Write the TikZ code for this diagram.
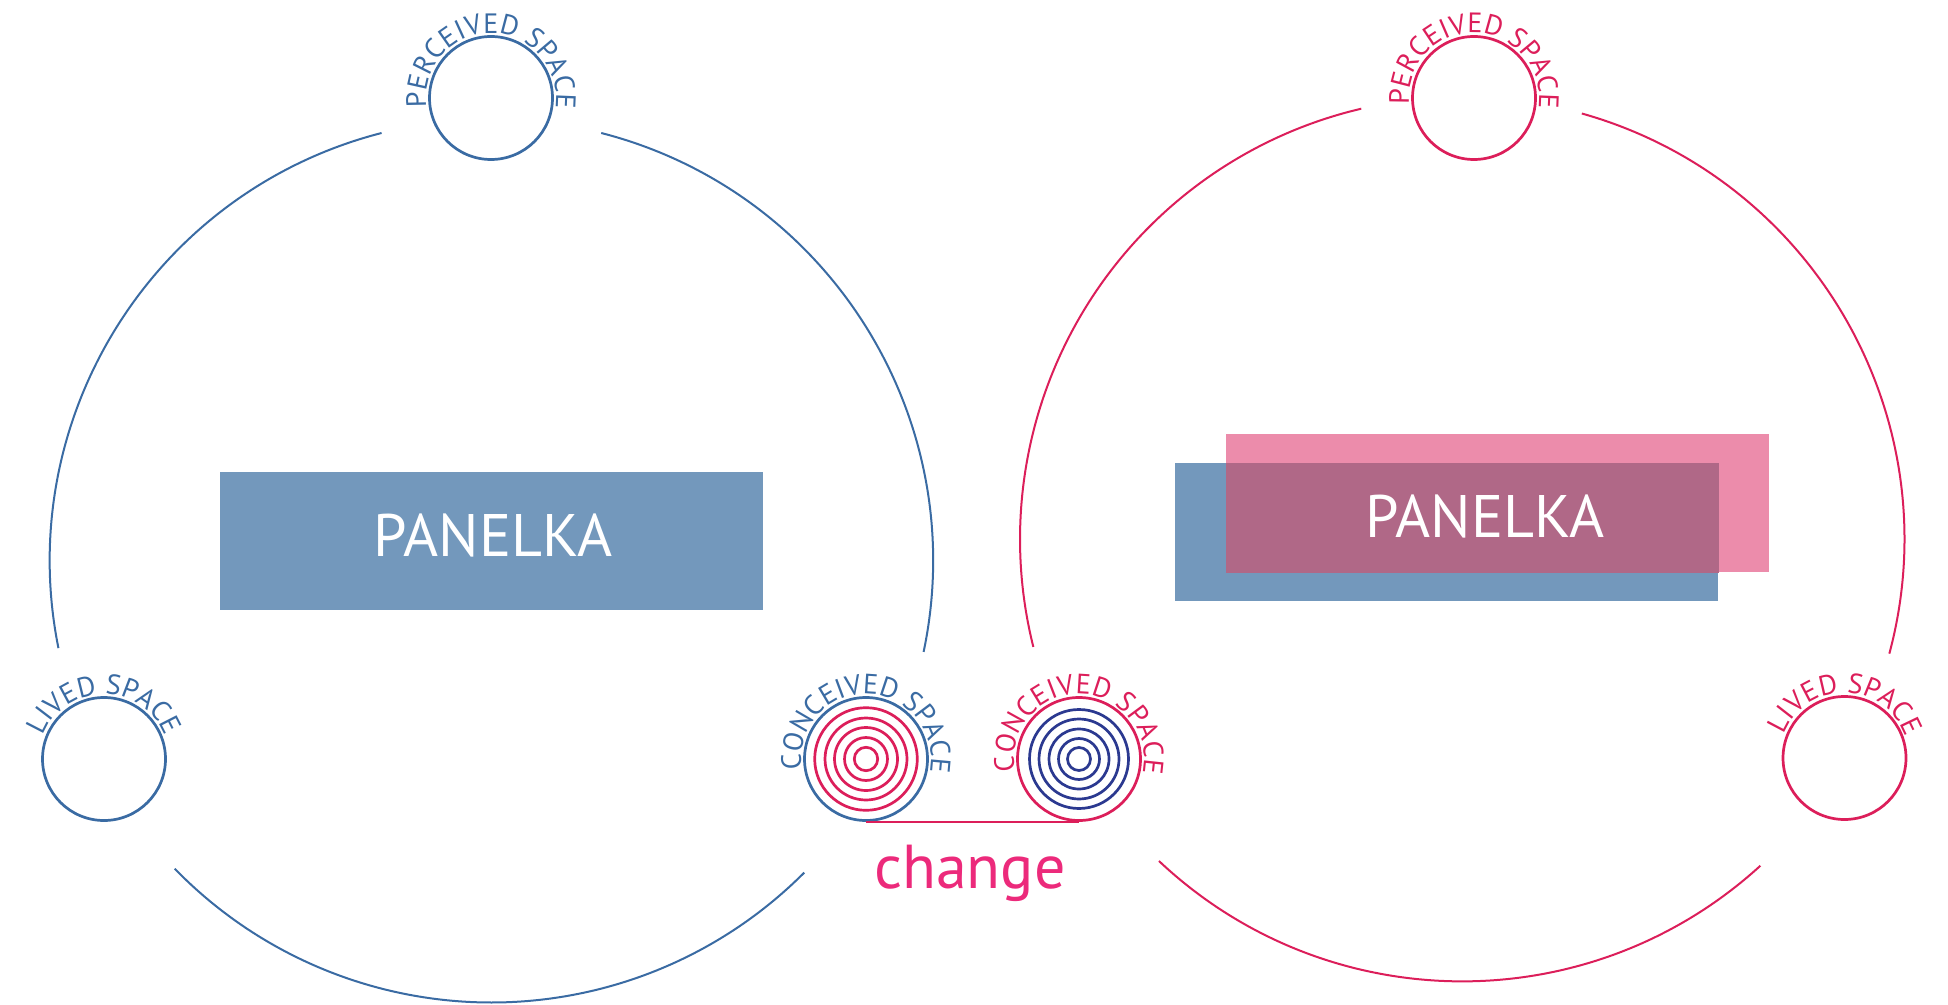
\documentclass[tikz,border=0pt]{standalone}
\usepackage{fontspec}
\setmainfont{PT Sans}
\usetikzlibrary{decorations.text}
\definecolor{blueline}{HTML}{3A6BA3}
\definecolor{redline}{HTML}{DC1E5A}
\definecolor{navyline}{HTML}{2B3990}
\definecolor{changecol}{HTML}{EC2A7B}
\definecolor{boxblue}{HTML}{7398BC}
\definecolor{boxpink}{HTML}{EC8CAB}
\definecolor{boxmix}{HTML}{B06887}
\newcommand{\labelfont}{\fontsize{14}{14}\selectfont}
\newcommand{\curvedlabel}[6]{%
  \path[decorate, decoration={text along path, text={|\labelfont\color{#5}|#6}, text align={fit to path}}]
    (#1) ++(#3:#2) arc[start angle=#3, end angle=#4, radius=#2];}
\tikzset{
  bigarc/.style={line width=1pt},
  smallc/.style={circle, draw, line width=1.35pt, minimum size=61.5pt, inner sep=0pt, fill=white},
  ring/.style={circle, draw, line width=1.35pt, inner sep=0pt},
  panel/.style={anchor=north west, inner sep=0pt, minimum width=271.5pt, minimum height=69pt},
  paneltxt/.style={anchor=base, text=white, font=\fontsize{30}{30}\selectfont, inner sep=0pt},
}
\begin{document}
\begin{tikzpicture}[x=0.5pt,y=0.5pt]
\useasboundingbox (0,0) rectangle (1948,-1005);

% ---------- left big circle ----------
\coordinate (LC) at (491.4,-560.8);
\draw[bigarc, blueline] (LC) ++(104.4:220.85pt) arc[start angle=104.4, end angle=191.4, radius=220.85pt];
\draw[bigarc, blueline] (LC) ++(75.6:220.85pt) arc[start angle=75.6, end angle=-11.9, radius=220.85pt];
\draw[bigarc, blueline] (LC) ++(224.2:220.85pt) arc[start angle=224.2, end angle=315.1, radius=220.85pt];

% ---------- right big circle ----------
\coordinate (RC) at (1462.2,-539.2);
\draw[bigarc, redline] (RC) ++(103.2:221.1pt) arc[start angle=103.2, end angle=194.1, radius=221.1pt];
\draw[bigarc, redline] (RC) ++(74.3:221.1pt) arc[start angle=74.3, end angle=-15, radius=221.1pt];
\draw[bigarc, redline] (RC) ++(226.7:221.1pt) arc[start angle=226.7, end angle=312.4, radius=221.1pt];

% ---------- boxes ----------
\node[panel, fill=boxblue] (lbox) at (220,-472) {};
\node[paneltxt] (ltxt) at (493,-556) {PANELKA};

\node[panel, fill=boxblue] (rboxb) at (1175,-463) {};
\node[panel, fill=boxpink] (rboxp) at (1226,-434) {};
\fill[boxmix] (rboxp.west |- rboxb.north) rectangle (rboxb.east |- rboxp.south);
\node[paneltxt] (rtxt) at (1485,-537) {PANELKA};

% ---------- small circles, left ----------
\node[smallc, draw=blueline] (lp) at (491,-98) {};
\node[smallc, draw=blueline] (ll) at (104,-759) {};
\node[smallc, draw=blueline] (lcon) at (866,-759) {};
\foreach \r in {51.3,41,31.5,21.5,11.7} \node[ring, draw=redline, minimum size=\r pt] at (lcon) {};

% ---------- small circles, right ----------
\node[smallc, draw=redline] (rp) at (1474,-98) {};
\node[smallc, draw=redline] (rl) at (1844.5,-758) {};
\node[smallc, draw=redline] (rcon) at (1079,-759) {};
\foreach \r in {49.5,40,30,20.5,11.5} \node[ring, draw=navyline, minimum size=\r pt] at (rcon) {};

% ---------- change connector ----------
\draw[redline, line width=1.35pt] (lcon.south) -- (rcon.south);
\node[anchor=base, text=changecol, font=\fontsize{31}{31}\selectfont, inner sep=0pt] (chg) at (970,-888) {change};

% ---------- curved labels ----------
\curvedlabel{lp}{32.5pt}{188}{-9}{blueline}{PERCEIVED SPACE}
\curvedlabel{ll}{32.5pt}{159}{21}{blueline}{LIVED SPACE}
\curvedlabel{lcon}{32.5pt}{189}{-11}{blueline}{CONCEIVED SPACE}
\curvedlabel{rp}{32.5pt}{186}{-8}{redline}{PERCEIVED SPACE}
\curvedlabel{rl}{32.5pt}{158.5}{19}{redline}{LIVED SPACE}
\curvedlabel{rcon}{32.5pt}{190.6}{-12.7}{redline}{CONCEIVED SPACE}
\end{tikzpicture}
\end{document}
